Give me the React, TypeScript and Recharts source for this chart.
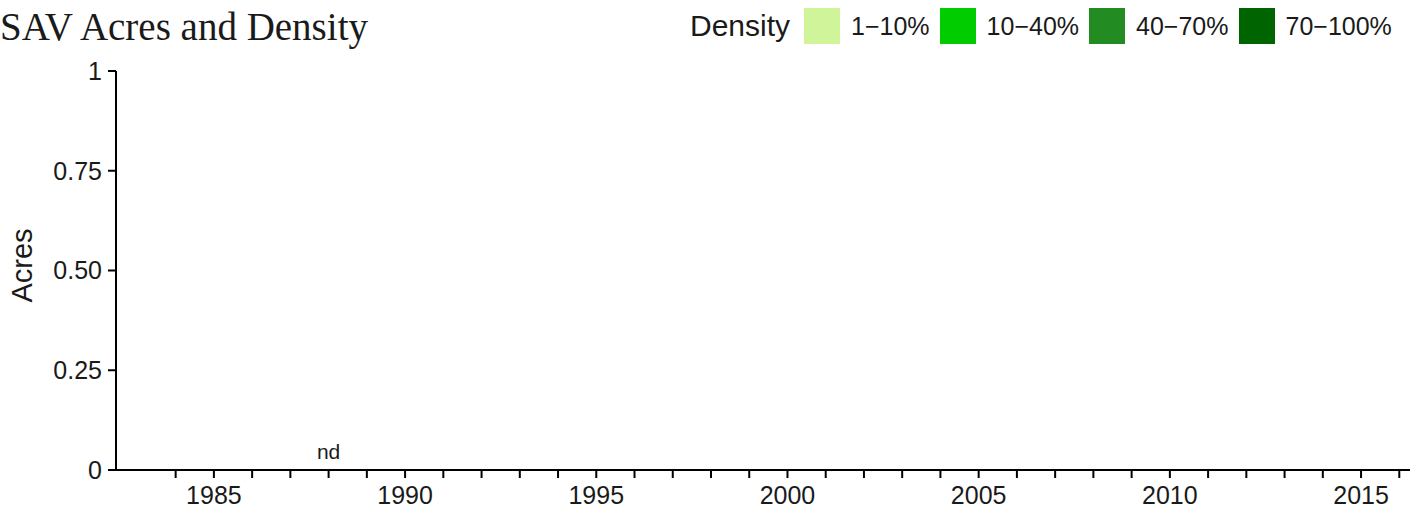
import {
  ComposedChart,
  Bar,
  XAxis,
  YAxis,
  ReferenceDot,
} from 'recharts';

// survey years on the x axis
const years = [
  1984, 1985, 1986, 1987, 1988, 1989, 1990, 1991, 1992, 1993, 1994,
  1995, 1996, 1997, 1998, 1999, 2000, 2001, 2002, 2003, 2004, 2005,
  2006, 2007, 2008, 2009, 2010, 2011, 2012, 2013, 2014, 2015, 2016,
];

// acres per density class (none mapped in this segment); null = no data
const dens1to10 = [
  0, 0, 0, 0, null, 0, 0, 0, 0, 0, 0,
  0, 0, 0, 0, 0, 0, 0, 0, 0, 0, 0,
  0, 0, 0, 0, 0, 0, 0, 0, 0, 0, 0,
];
const dens10to40 = [
  0, 0, 0, 0, null, 0, 0, 0, 0, 0, 0,
  0, 0, 0, 0, 0, 0, 0, 0, 0, 0, 0,
  0, 0, 0, 0, 0, 0, 0, 0, 0, 0, 0,
];
const dens40to70 = [
  0, 0, 0, 0, null, 0, 0, 0, 0, 0, 0,
  0, 0, 0, 0, 0, 0, 0, 0, 0, 0, 0,
  0, 0, 0, 0, 0, 0, 0, 0, 0, 0, 0,
];
const dens70to100 = [
  0, 0, 0, 0, null, 0, 0, 0, 0, 0, 0,
  0, 0, 0, 0, 0, 0, 0, 0, 0, 0, 0,
  0, 0, 0, 0, 0, 0, 0, 0, 0, 0, 0,
];

const noDataYears = [1988];

const yTicks = [0, 0.25, 0.5, 0.75, 1];
const yTickLabels = ['0', '0.25', '0.50', '0.75', '1'];

const densityClasses = [
  { key: 'd1', name: '1\u221210%', color: '#d0f49a', values: dens1to10 },
  { key: 'd2', name: '10\u221240%', color: '#00cc00', values: dens10to40 },
  { key: 'd3', name: '40\u221270%', color: '#228b22', values: dens40to70 },
  { key: 'd4', name: '70\u2212100%', color: '#006400', values: dens70to100 },
];

const chartData = years.map((year, i) => {
  const row: Record<string, number | null> = { year };
  densityClasses.forEach((c) => {
    row[c.key] = c.values[i];
  });
  return row;
});

const SANS = '"Liberation Sans", Arial, sans-serif';
const INK = '#1a1a1a';

function DensityLegend() {
  return (
    <div
      style={{
        position: 'absolute',
        top: 8,
        left: 690,
        display: 'flex',
        alignItems: 'center',
        fontFamily: SANS,
        color: INK,
        lineHeight: 1,
      }}
    >
      <span style={{ fontSize: 30, marginRight: 14 }}>Density</span>
      {densityClasses.map((c) => (
        <div key={c.key} style={{ display: 'flex', alignItems: 'center' }}>
          <div style={{ width: 36, height: 36, background: c.color }} />
          <span style={{ fontSize: 25, marginLeft: 11, marginRight: 10 }}>{c.name}</span>
        </div>
      ))}
    </div>
  );
}

export default function App() {
  return (
    <div style={{ position: 'relative', width: 1421, height: 514, background: '#fff', overflow: 'hidden' }}>
      <style>{'body{margin:0}'}</style>
      <div
        style={{
          position: 'absolute',
          left: 0,
          top: 7,
          fontFamily: '"Liberation Serif", "DejaVu Serif", serif',
          fontSize: 39,
          color: INK,
          lineHeight: 1,
          whiteSpace: 'nowrap',
        }}
      >
        SAV Acres and Density
      </div>
      <DensityLegend />
      <ComposedChart
        width={1421}
        height={514}
        data={chartData}
        margin={{ top: 71, right: 11, bottom: 0, left: 0 }}
      >
        <XAxis
          dataKey="year"
          type="number"
          domain={[1982.44, 2016.28]}
          allowDataOverflow
          ticks={years}
          interval={0}
          tickFormatter={(v: number) => (v % 5 === 0 ? String(v) : '')}
          height={44}
          stroke="#000"
          strokeWidth={2}
          tickSize={8}
          tickMargin={8}
          tick={{ fill: INK, fontSize: 25, fontFamily: SANS }}
        />
        <YAxis
          type="number"
          domain={[0, 1]}
          ticks={yTicks}
          interval={0}
          tickFormatter={(v: number) => yTickLabels[yTicks.indexOf(v)] ?? String(v)}
          width={116}
          stroke="#000"
          strokeWidth={2}
          tickSize={8}
          tickMargin={6}
          tick={{ fill: INK, fontSize: 25, fontFamily: SANS }}
          label={(props: any) => {
            const vb = props.viewBox || {};
            const cx = (vb.x ?? 0) + 22;
            const cy = (vb.y ?? 0) + (vb.height ?? 0) / 2 - 5;
            return (
              <text
                x={cx}
                y={cy}
                transform={`rotate(-90, ${cx}, ${cy})`}
                textAnchor="middle"
                dominantBaseline="central"
                fontSize={29}
                fontFamily={SANS}
                fill={INK}
              >
                Acres
              </text>
            );
          }}
        />
        {densityClasses.map((c) => (
          <Bar
            key={c.key}
            dataKey={c.key}
            name={c.name}
            stackId="sav"
            fill={c.color}
            barSize={34}
            isAnimationActive={false}
          />
        ))}
        {noDataYears.map((y) => (
          <ReferenceDot
            key={y}
            x={y}
            y={0}
            r={0}
            fill="none"
            stroke="none"
            label={{ value: 'nd', position: 'top', offset: 11, fontSize: 21, fontFamily: SANS, fill: INK }}
          />
        ))}
      </ComposedChart>
    </div>
  );
}
